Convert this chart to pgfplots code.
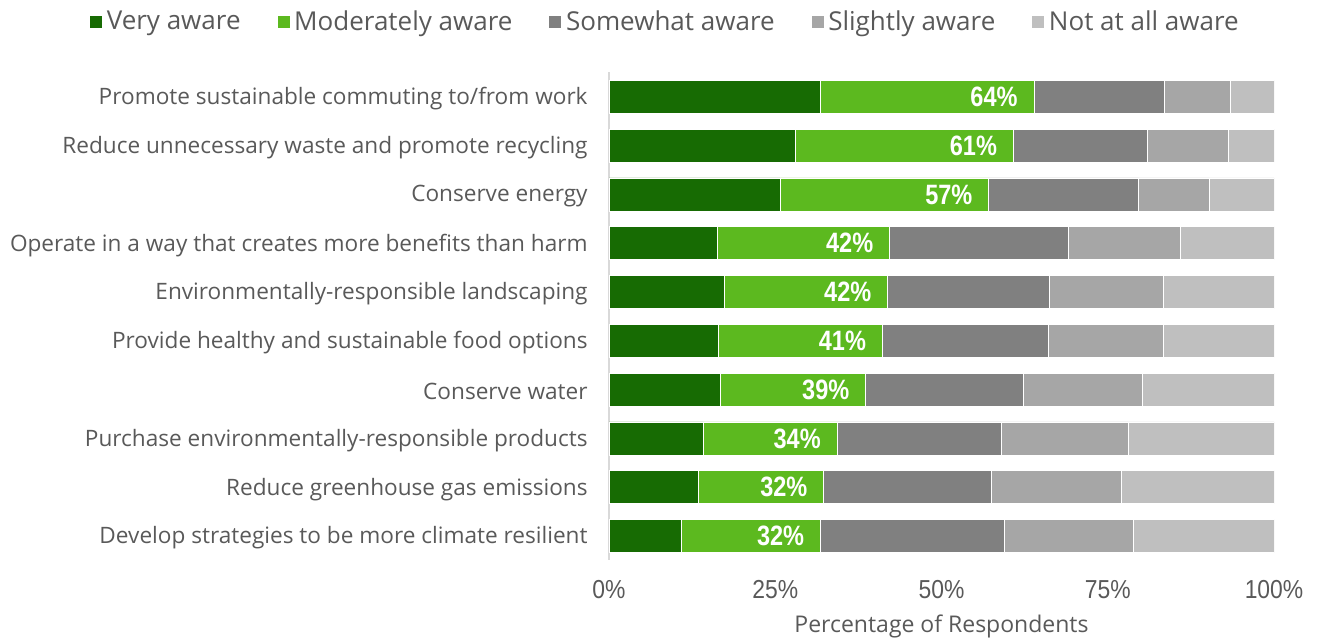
\documentclass[border=0pt]{standalone}
\usepackage{pgfplots}
\pgfplotsset{compat=1.18}
\usepackage{fontspec}
\setmainfont{Open Sans}
\newfontfamily\narrowfont[FakeStretch=0.88]{Liberation Sans}
\newfontfamily\narrowbold[FakeStretch=0.84]{Liberation Sans Bold}
\definecolor{cVery}{HTML}{176B03}
\definecolor{cMod}{HTML}{5CB91F}
\definecolor{cSome}{HTML}{808080}
\definecolor{cSlight}{HTML}{A6A6A6}
\definecolor{cNot}{HTML}{BFBFBF}
\definecolor{txt}{HTML}{595959}
\definecolor{axln}{HTML}{D9D9D9}
\pgfplotsset{
  common/.style={
    at={(304.5pt,39.3pt)}, anchor=south west,
    scale only axis, width=332.5pt, height=244pt,
    xmin=0, xmax=100, ymin=0.5, ymax=10.5, y dir=reverse,
  }
}
\begin{document}
\begin{tikzpicture}
\useasboundingbox (0pt,0pt) rectangle (658.5pt,319.5pt);
\begin{axis}[
  common,
  xbar stacked, bar width=16.5pt,
  axis x line*=bottom, axis y line*=left,
  x axis line style={draw=none},
  y axis line style={draw=axln, line width=1pt},
  major tick length=0pt,
  xtick={0,25,50,75,100},
  xticklabels={0\%,25\%,50\%,75\%,100\%},
  xticklabel style={font=\narrowfont\fontsize{13}{14}\selectfont, text=txt, inner sep=0pt, anchor=north, yshift=-10pt},
  ytick={1,...,10},
  yticklabels={Promote sustainable commuting to/from work,
    Reduce unnecessary waste and promote recycling,
    Conserve energy,
    Operate in a way that creates more benefits than harm,
    Environmentally-responsible landscaping,
    Provide healthy and sustainable food options,
    Conserve water,
    Purchase environmentally-responsible products,
    Reduce greenhouse gas emissions,
    Develop strategies to be more climate resilient},
  yticklabel style={font=\fontsize{11.3}{13}\selectfont, text=txt, inner sep=0pt, anchor=east, xshift=-10.5pt, yshift=-1pt},
  xlabel={Percentage of Respondents},
  xlabel style={font=\fontsize{11.5}{13}\selectfont, text=txt, at={(axis description cs:0.5,0)}, anchor=north, yshift=-27pt, inner sep=0pt},
  legend columns=5,
  legend style={at={(axis description cs:0.0857,1.136)}, anchor=north, draw=none, fill=none, inner sep=0pt,
    font=\fontsize{13}{15}\selectfont, text=txt,
    /tikz/every even column/.append style={column sep=16pt}},
  legend image code/.code={\fill[#1] (-2pt,-3.25pt) rectangle (4.5pt,3.25pt);},
  every axis plot/.append style={draw=white, line width=0.3pt},
]
\addplot[fill=cVery] coordinates {(31.7,1) (28.0,2) (25.7,3) (16.3,4) (17.3,5) (16.5,6) (16.8,7) (14.2,8) (13.4,9) (10.9,10)};
\addlegendentry{Very aware}
\addplot[fill=cMod] coordinates {(32.2,1) (32.8,2) (31.4,3) (25.9,4) (24.6,5) (24.6,6) (21.8,7) (20.1,8) (18.9,9) (20.9,10)};
\addlegendentry{Moderately aware}
\addplot[fill=cSome] coordinates {(19.6,1) (20.1,2) (22.5,3) (26.8,4) (24.3,5) (25.0,6) (23.7,7) (24.7,8) (25.2,9) (27.6,10)};
\addlegendentry{Somewhat aware}
\addplot[fill=cSlight] coordinates {(10.0,1) (12.3,2) (10.7,3) (16.9,4) (17.2,5) (17.3,6) (17.9,7) (19.1,8) (19.5,9) (19.4,10)};
\addlegendentry{Slightly aware}
\addplot[fill=cNot] coordinates {(6.5,1) (6.8,2) (9.7,3) (14.1,4) (16.6,5) (16.6,6) (19.8,7) (21.9,8) (23.0,9) (21.2,10)};
\addlegendentry{Not at all aware}
\end{axis}
\begin{axis}[common, hide axis]
\addplot[draw=none, mark=none, nodes near coords, point meta=explicit symbolic,
  every node near coord/.append style={anchor=east, font=\narrowbold\fontsize{14}{14}\selectfont, text=white, inner sep=0pt, xshift=-8pt}]
  coordinates {(63.9,1) [64\%] (60.8,2) [61\%] (57.1,3) [57\%] (42.2,4) [42\%] (41.9,5) [42\%] (41.1,6) [41\%] (38.6,7) [39\%] (34.3,8) [34\%] (32.3,9) [32\%] (31.8,10) [32\%]};
\end{axis}
\end{tikzpicture}
\end{document}
